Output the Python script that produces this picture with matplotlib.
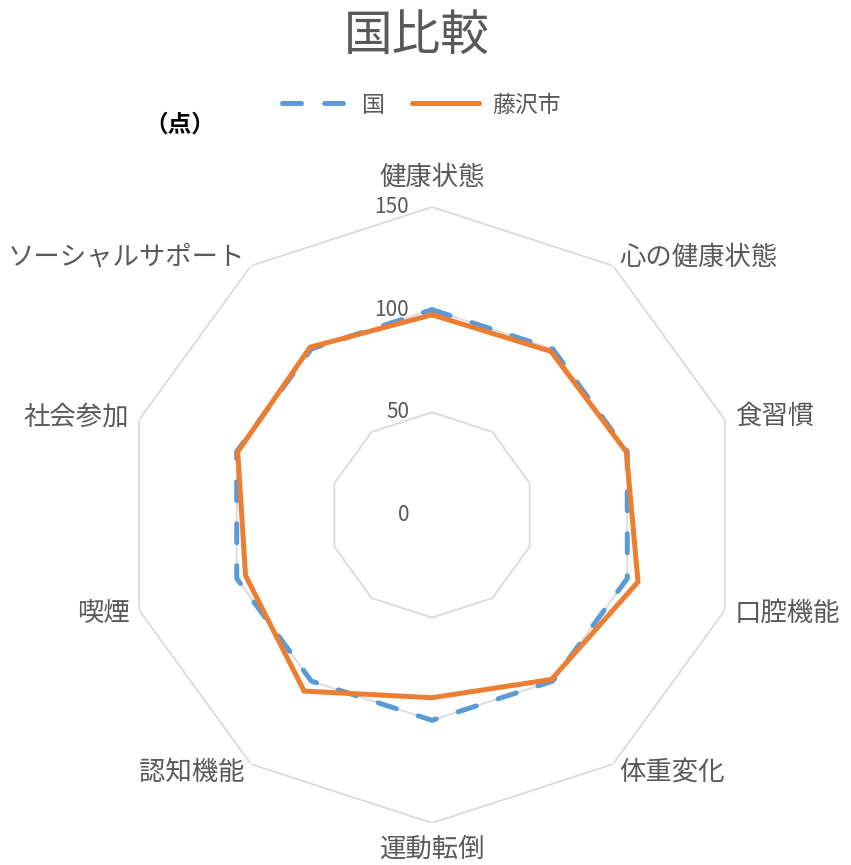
"""Radar chart: 国 vs 藤沢市."""

import numpy as np
import matplotlib
matplotlib.use("Agg")
import matplotlib.pyplot as plt
from matplotlib.lines import Line2D
from matplotlib.transforms import offset_copy

plt.rcParams['font.family'] = ['Noto Sans CJK JP', 'DejaVu Sans']

categories = ['健康状態', '心の健康状態', '食習慣', '口腔機能', '体重変化',
              '運動転倒', '認知機能', '喫煙', '社会参加', 'ソーシャルサポート']
kuni = [100, 100, 100, 100, 100, 100, 100, 100, 100, 100]
fujisawa = [97.5, 98.5, 99.5, 105.5, 99, 89, 106, 95.5, 99.5, 101]
ring_values = [50, 100, 150]
tick_values = [0, 50, 100, 150]

BLUE = '#5B9BD5'
ORANGE = '#ED7D31'
GRID = '#D9D9D9'
TEXT = '#595959'

fig = plt.figure(figsize=(8.51, 8.65), dpi=100)
ax = fig.add_axes([0.1457, 0.0486, 0.7239, 0.7121], projection='polar')
ax.set_theta_zero_location('N')
ax.set_theta_direction(-1)
ax.set_ylim(0, 150)
ax.grid(False)
ax.spines['polar'].set_visible(False)
ax.set_xticks([])
ax.set_yticks([])

n = len(categories)
theta = np.linspace(0, 2 * np.pi, n, endpoint=False)
theta_closed = np.append(theta, theta[0])

# decagon grid rings
for rv in ring_values:
    ax.plot(theta_closed, [rv] * (n + 1), color=GRID, lw=1.3, zorder=1)

# series
ax.plot(theta_closed, kuni + kuni[:1], color=BLUE, lw=3.6,
        linestyle=(0, (3.8, 4.6)), dash_capstyle='round', zorder=3)
ax.plot(theta_closed, fujisawa + fujisawa[:1], color=ORANGE, lw=3.6,
        solid_joinstyle='miter', zorder=4)

# radial tick labels
tick_tr = offset_copy(ax.transData, fig=fig, x=-23, y=0, units='dots')
for tv in tick_values:
    ax.text(0, tv, str(tv), transform=tick_tr, ha='right', va='center',
            fontsize=15, color=TEXT)

# category labels
for ang, lab in zip(theta, categories):
    deg = np.degrees(ang)
    if np.isclose(deg, 0):
        ha, va, r = 'center', 'bottom', 158
    elif np.isclose(deg, 180):
        ha, va, r = 'center', 'top', 156
    elif deg < 180:
        ha, va, r = 'left', 'center', 155
    else:
        ha, va, r = 'right', 'center', 155
    ax.text(ang, r, lab, ha=ha, va=va, fontsize=19, color=TEXT)

fig.text(0.49, 1 - 36 / 865, '国比較', ha='center', va='center',
         fontsize=35, color=TEXT)
fig.text(0.211, 1 - 125 / 865, '（点）', ha='center', va='center',
         fontsize=17, fontweight='bold', color='black')

handles = [
    Line2D([], [], color=BLUE, lw=3.6, linestyle=(0, (3.8, 4.6)),
           dash_capstyle='round'),
    Line2D([], [], color=ORANGE, lw=3.6, solid_capstyle='round'),
]
leg = fig.legend(handles, ['国', '藤沢市'], loc='center', ncol=2,
                 bbox_to_anchor=(0.495, 1 - 105 / 865), frameon=False,
                 fontsize=16.5, handlelength=2.9, columnspacing=1.2,
                 handletextpad=0.6)
for t in leg.get_texts():
    t.set_color(TEXT)

fig.savefig('out.png', dpi=100)
